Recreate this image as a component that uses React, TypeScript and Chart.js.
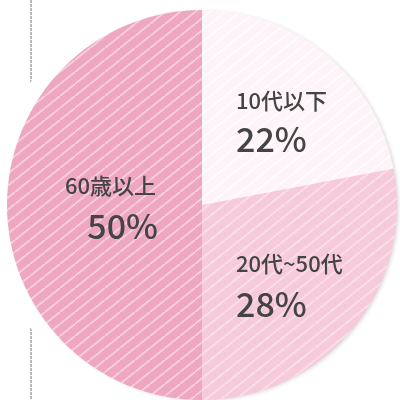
import { useEffect, useRef } from "react";
import { Chart, registerables } from "chart.js";

Chart.register(...registerables);

const categories = ["10代以下", "20代~50代", "60歳以上"];
const values = [22, 28, 50];
const valueLabels = ["22%", "28%", "50%"];
const baseColors = ["#fdf3f8", "#f7cadb", "#eea6c1"];
const stripeColors = ["rgba(255,255,255,0.7)", "rgba(255,255,255,0.4)", "rgba(255,255,255,0.45)"];

// label placement relative to pie centre (px), category baseline and value baseline
const labelPlacement = [
  { dx: 34, catDy: -96, valDy: -53, align: "left" as CanvasTextAlign },
  { dx: 34, catDy: 67, valDy: 112, align: "left" as CanvasTextAlign },
  { dx: -46, catDy: -11, valDy: 34, align: "right" as CanvasTextAlign },
];

function makeStripePattern(base: string, stripe: string): CanvasPattern | string {
  const w = 15;
  const h = 12;
  const c = document.createElement("canvas");
  c.width = w;
  c.height = h;
  const ctx = c.getContext("2d");
  if (!ctx) return base;
  ctx.fillStyle = base;
  ctx.fillRect(0, 0, w, h);
  ctx.strokeStyle = stripe;
  ctx.lineWidth = 2;
  for (const ox of [-w, 0, w]) {
    ctx.beginPath();
    ctx.moveTo(ox, h);
    ctx.lineTo(ox + w, 0);
    ctx.stroke();
  }
  const p = ctx.createPattern(c, "repeat");
  return p || base;
}

const decorPlugin = {
  id: "decor",
  beforeDatasetsDraw(chart: any) {
    const arc = chart.getDatasetMeta(0).data[0];
    if (!arc) return;
    const { x, y, outerRadius } = arc.getProps(["x", "y", "outerRadius"], true);
    const ctx = chart.ctx as CanvasRenderingContext2D;
    ctx.save();
    // vertical guide line behind the pie
    ctx.strokeStyle = "#b8b8b8";
    ctx.lineWidth = 2;
    ctx.setLineDash([3, 1]);
    ctx.beginPath();
    ctx.moveTo(x - outerRadius * 0.877, 0);
    ctx.lineTo(x - outerRadius * 0.877, chart.height);
    ctx.stroke();
    ctx.setLineDash([]);
    // white halo
    ctx.fillStyle = "#ffffff";
    ctx.beginPath();
    ctx.arc(x, y, outerRadius + 16, 0, Math.PI * 2);
    ctx.fill();
    // soft shadow
    ctx.shadowColor = "rgba(0,0,0,0.18)";
    ctx.shadowBlur = 4;
    ctx.shadowOffsetX = 2;
    ctx.shadowOffsetY = 1;
    ctx.beginPath();
    ctx.arc(x, y, outerRadius - 1, 0, Math.PI * 2);
    ctx.fill();
    ctx.restore();
  },
  afterDatasetsDraw(chart: any) {
    const arc = chart.getDatasetMeta(0).data[0];
    if (!arc) return;
    const { x, y } = arc.getProps(["x", "y"], true);
    const ctx = chart.ctx as CanvasRenderingContext2D;
    ctx.save();
    ctx.fillStyle = "#444444";
    ctx.textBaseline = "alphabetic";
    categories.forEach((cat, i) => {
      const pl = labelPlacement[i];
      ctx.textAlign = pl.align;
      ctx.font = '500 22px "Noto Sans CJK JP"';
      ctx.fillText(cat, x + pl.dx, y + pl.catDy);
      ctx.font = '500 34px "Noto Sans CJK JP"';
      ctx.fillText(valueLabels[i], x + pl.dx + (pl.align === "right" ? 2 : 0), y + pl.valDy);
    });
    ctx.restore();
  },
};

export default function App() {
  const ref = useRef<HTMLCanvasElement | null>(null);
  useEffect(() => {
    if (!ref.current) return;
    const patterns = baseColors.map((b, i) => makeStripePattern(b, stripeColors[i]));
    const chart = new Chart(ref.current, {
      type: "pie",
      data: {
        labels: categories,
        datasets: [
          {
            data: values,
            backgroundColor: patterns as any,
            borderWidth: 0,
            hoverOffset: 0,
          },
        ],
      },
      options: {
        responsive: false,
        animation: false,
        layout: { padding: { left: 7, right: 3, top: 10, bottom: 0 } },
        plugins: {
          legend: { display: false },
          tooltip: { enabled: false },
        },
        events: [],
      },
      plugins: [decorPlugin],
    });
    return () => chart.destroy();
  }, []);
  return (
    <div style={{ position: "fixed", left: 0, top: 0, width: 400, height: 400, background: "#ffffff" }}>
      <canvas ref={ref} width={400} height={400} style={{ width: 400, height: 400, display: "block" }} />
    </div>
  );
}
